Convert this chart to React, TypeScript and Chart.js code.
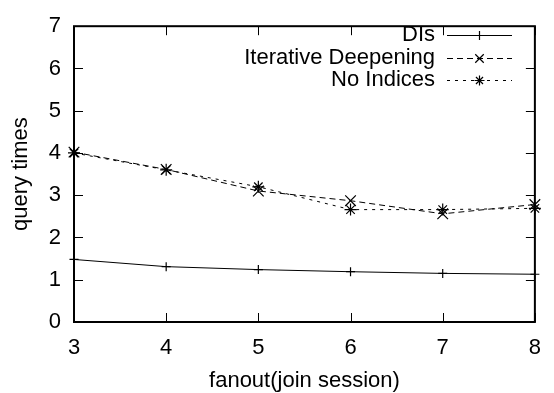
import React, { useEffect, useRef } from 'react';
import { Chart, registerables } from 'chart.js';

Chart.register(...registerables);

const fanout = [3, 4, 5, 6, 7, 8];
const dis = [1.48, 1.31, 1.24, 1.19, 1.15, 1.13];
const iterativeDeepening = [4.02, 3.61, 3.1, 2.87, 2.56, 2.78];
const noIndices = [4.0, 3.6, 3.2, 2.66, 2.66, 2.69];
const yTicks = [0, 1, 2, 3, 4, 5, 6, 7];
const xTicks = [3, 4, 5, 6, 7, 8];

const FONT = '"Liberation Sans", Arial, Helvetica, sans-serif';
const FS = 22;

function drawMarker(ctx: CanvasRenderingContext2D, style: string, x: number, y: number, r: number) {
  ctx.beginPath();
  const d = r * Math.SQRT1_2;
  if (style === 'cross' || style === 'star') {
    ctx.moveTo(x - r, y); ctx.lineTo(x + r, y);
    ctx.moveTo(x, y - r); ctx.lineTo(x, y + r);
  }
  if (style === 'crossRot' || style === 'star') {
    ctx.moveTo(x - d, y - d); ctx.lineTo(x + d, y + d);
    ctx.moveTo(x - d, y + d); ctx.lineTo(x + d, y - d);
  }
  ctx.stroke();
}

const framePlugin = {
  id: 'frame',
  beforeDatasetsDraw(chart: any) {
    const { ctx, chartArea: a, scales } = chart;
    ctx.save();
    ctx.strokeStyle = '#000';
    ctx.lineWidth = 1;
    const tl = 9;
    ctx.beginPath();
    yTicks.forEach((v) => {
      const py = Math.round(scales.y.getPixelForValue(v)) + 0.5;
      ctx.moveTo(a.left, py); ctx.lineTo(a.left + tl, py);
      ctx.moveTo(a.right, py); ctx.lineTo(a.right - tl, py);
    });
    xTicks.forEach((v) => {
      const px = Math.round(scales.x.getPixelForValue(v)) + 0.5;
      ctx.moveTo(px, a.bottom); ctx.lineTo(px, a.bottom - tl);
      ctx.moveTo(px, a.top); ctx.lineTo(px, a.top + tl);
    });
    ctx.stroke();
    ctx.lineWidth = 2;
    ctx.strokeRect(a.left, a.top, a.right - a.left, a.bottom - a.top);
    ctx.restore();
  },
};

const legendPlugin = {
  id: 'gpLegend',
  afterDatasetsDraw(chart: any) {
    const { ctx } = chart;
    const rows = [35, 58, 80];
    ctx.save();
    ctx.font = `${FS}px ${FONT}`;
    ctx.textAlign = 'right';
    ctx.textBaseline = 'middle';
    chart.data.datasets.forEach((ds: any, i: number) => {
      const y = rows[i];
      ctx.fillStyle = '#000';
      ctx.fillText(ds.label, 435, y);
      ctx.strokeStyle = ds.borderColor;
      ctx.lineWidth = ds.borderWidth;
      ctx.setLineDash(ds.borderDash || []);
      ctx.beginPath();
      ctx.moveTo(447, y + 0.5); ctx.lineTo(512, y + 0.5);
      ctx.stroke();
      ctx.setLineDash([]);
      ctx.lineWidth = ds.pointBorderWidth;
      drawMarker(ctx, ds.pointStyle, 479.5, y + 0.5, ds.legendR);
    });
    ctx.restore();
  },
};

export default function App() {
  const ref = useRef<HTMLCanvasElement | null>(null);
  useEffect(() => {
    document.body.style.margin = '0';
    const canvas = ref.current!;
    const mk = (label: string, ys: number[], dash: number[], style: string, r: number, lr: number) => ({
      label,
      data: fanout.map((x, i) => ({ x, y: ys[i] })),
      borderColor: '#000',
      backgroundColor: '#000',
      borderWidth: 1,
      borderDash: dash,
      pointStyle: style,
      pointRadius: r,
      pointBorderWidth: 1.2,
      pointBorderColor: '#000',
      pointBackgroundColor: '#000',
      tension: 0,
      fill: false,
      clip: false as any,
      legendR: lr,
    });
    const chart = new Chart(canvas, {
      type: 'line',
      data: {
        datasets: [
          mk('DIs', dis, [], 'cross', 4.5, 4.5),
          mk('Iterative Deepening', iterativeDeepening, [6, 4], 'crossRot', 7.5, 6),
          mk('No Indices', noIndices, [3, 5], 'star', 6, 5),
        ] as any,
      },
      plugins: [framePlugin, legendPlugin],
      options: {
        animation: false,
        responsive: false,
        devicePixelRatio: 1,
        layout: { padding: { top: 14, right: 16, left: 0, bottom: 0 } },
        plugins: { legend: { display: false }, tooltip: { enabled: false } },
        scales: {
          x: {
            type: 'linear',
            min: 3,
            max: 8,
            grid: { display: false, drawTicks: false },
            border: { display: false },
            afterBuildTicks: (s: any) => { s.ticks = xTicks.map((v) => ({ value: v })); },
            afterFit: (s: any) => { s.height = 71; },
            ticks: { color: '#000', font: { family: FONT, size: FS }, padding: 13, maxRotation: 0, autoSkip: false },
            title: {
              display: true,
              text: 'fanout(join session)',
              color: '#000',
              font: { family: FONT, size: FS, lineHeight: 1 },
              padding: { top: 0, bottom: 1 },
            },
          },
          y: {
            type: 'linear',
            min: 0,
            max: 7,
            grid: { display: false, drawTicks: false },
            border: { display: false },
            afterBuildTicks: (s: any) => { s.ticks = yTicks.map((v) => ({ value: v })); },
            afterFit: (s: any) => { s.width = 74; },
            ticks: { color: '#000', font: { family: FONT, size: FS }, padding: 13, autoSkip: false },
            title: {
              display: true,
              text: 'query times',
              color: '#000',
              font: { family: FONT, size: FS, lineHeight: 1 },
              padding: { top: 10, bottom: 0 },
            },
          },
        },
      } as any,
    });
    return () => chart.destroy();
  }, []);
  return <canvas ref={ref} width={554} height={393} style={{ display: 'block', width: 554, height: 393 }} />;
}
